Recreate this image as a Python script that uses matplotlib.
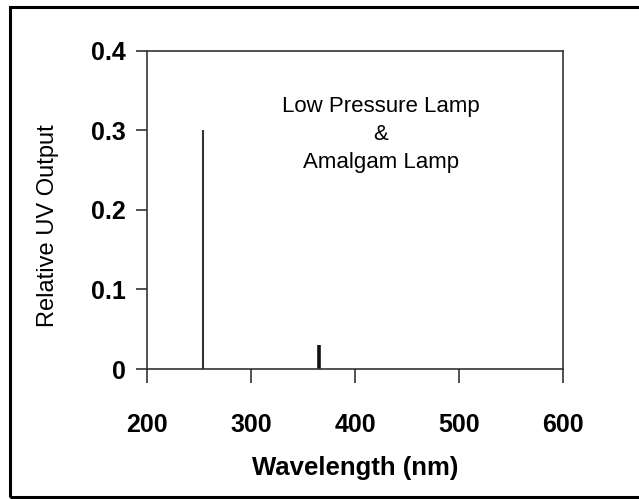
import matplotlib.pyplot as plt
from matplotlib.patches import Rectangle

# emission lines (nm, relative output)
wavelengths = [254, 365]
outputs = [0.30, 0.03]
line_widths = [1.5, 2.6]

x_ticks = [200, 300, 400, 500, 600]
y_ticks = [0, 0.1, 0.2, 0.3, 0.4]
y_tick_labels = ['0', '0.1', '0.2', '0.3', '0.4']

plt.rcParams['font.family'] = ['Liberation Sans', 'DejaVu Sans']

fig = plt.figure(figsize=(6.39, 4.99), dpi=100)
ax = fig.add_axes([0.230, 0.2605, 0.651, 0.6375])

ax.vlines(wavelengths, 0, outputs, colors=['#333333', '#111111'], linewidths=line_widths)

ax.set_xlim(200, 600)
ax.set_ylim(0, 0.4)
ax.set_xticks(x_ticks)
ax.set_yticks(y_ticks)
ax.set_yticklabels(y_tick_labels)

for s in ax.spines.values():
    s.set_color('#333333')
    s.set_linewidth(1.2)

ax.tick_params(axis='x', direction='out', length=10, width=1.2, color='#333333', pad=22)
ax.tick_params(axis='y', direction='out', length=8, width=1.2, color='#333333', pad=7)
for lab in ax.get_xticklabels() + ax.get_yticklabels():
    lab.set_fontweight('bold')
    lab.set_fontsize(18)

ax.set_xlabel('Wavelength (nm)', fontweight='bold', fontsize=18.5, labelpad=13)
ax.set_ylabel('Relative UV Output', fontsize=17)
ax.yaxis.set_label_coords(-0.212, 0.45)

ax.text(425, 0.295, 'Low Pressure Lamp\n&\nAmalgam Lamp', ha='center', va='center',
        fontsize=16, linespacing=1.45)

# outer frame (right edge cropped off in the original)
fig.patches.append(Rectangle((10 / 639, 2 / 499), 700 / 639, 490 / 499, transform=fig.transFigure,
                             fill=False, edgecolor='black', linewidth=2.2, clip_on=False))

fig.savefig('out.png', dpi=100)
